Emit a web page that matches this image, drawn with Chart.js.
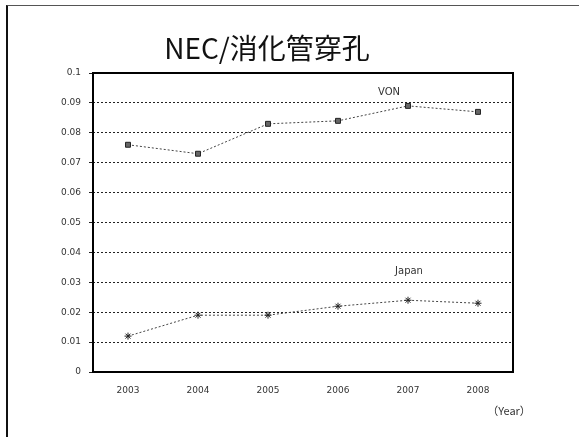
<!DOCTYPE html>
<html>
<head>
<meta charset="utf-8">
<script src="https://cdn.jsdelivr.net/npm/chart.js@4.4.0/dist/chart.umd.min.js"></script>
<style>
  html, body { margin: 0; padding: 0; background: #fff; }
  #wrap { position: relative; width: 579px; height: 437px; }
  #frame { position: absolute; left: 6px; top: 5px; right: 0; bottom: 0;
           border-left: 2px solid #111; border-top: 1px solid #555; }
  canvas { position: absolute; left: 0; top: 0; }
</style>
</head>
<body>
<div id="wrap">
  <div id="frame"></div>
  <canvas id="myChart" width="579" height="437"></canvas>
</div>
<script>
const ctx = document.getElementById('myChart');

var years = ['2003', '2004', '2005', '2006', '2007', '2008'];
var vonRates = [0.076, 0.073, 0.083, 0.084, 0.089, 0.087];
var japanRates = [0.012, 0.019, 0.019, 0.022, 0.024, 0.023];
var yTicks = [0, 0.01, 0.02, 0.03, 0.04, 0.05, 0.06, 0.07, 0.08, 0.09, 0.1];

var tickFont = { family: 'DejaVu Sans', size: 9 };

// title, series names and the unit label are drawn straight onto the canvas
var textPlugin = {
  id: 'chartTexts',
  afterDraw(chart) {
    var c = chart.ctx;
    var x = chart.scales.x, y = chart.scales.y;
    c.save();
    c.fillStyle = '#111';
    c.textAlign = 'center';
    c.textBaseline = 'middle';
    c.font = '28px "Noto Sans CJK JP"';
    c.fillText('NEC/消化管穿孔', 267, 48);

    c.fillStyle = '#333';
    c.font = '10px "DejaVu Sans"';
    c.fillText('VON', x.getPixelForValue(4) - 19, y.getPixelForValue(0.0935));
    c.fillText('Japan', x.getPixelForValue(4) + 1, y.getPixelForValue(0.0335));
    c.font = '11px "Noto Sans CJK JP"';
    c.fillText('（Year）', 509, 411);

    // solid plot frame
    var a = chart.chartArea;
    c.strokeStyle = '#000';
    c.lineWidth = 2;
    c.strokeRect(a.left, a.top, a.right - a.left, a.bottom - a.top);
    c.restore();
  }
};

var chart = new Chart(ctx, {
  type: 'line',
  data: {
    labels: years,
    datasets: [{
      label: 'VON',
      data: vonRates,
      borderColor: '#444',
      borderWidth: 1,
      borderDash: [2, 2],
      pointStyle: 'rect',
      pointRadius: 3.5,
      pointBackgroundColor: '#666',
      pointBorderColor: '#222',
      pointBorderWidth: 1
    },
    {
      label: 'Japan',
      data: japanRates,
      borderColor: '#444',
      borderWidth: 1,
      borderDash: [2, 2],
      pointStyle: 'star',
      pointRadius: 3.5,
      pointBorderColor: '#222',
      pointBorderWidth: 1
    }]
  },
  options: {
    responsive: false,
    animation: false,
    layout: { padding: { top: 73, right: 66, bottom: 37, left: 0 } },
    plugins: {
      legend: { display: false },
      tooltip: { enabled: false }
    },
    scales: {
      x: {
        offset: true,
        grid: { display: false, drawTicks: false },
        border: { display: false },
        ticks: { color: '#333', font: tickFont, padding: 13 },
        afterFit: s => { s.height = 28; }
      },
      y: {
        min: 0,
        max: 0.1,
        afterBuildTicks: s => { s.ticks = yTicks.map(v => ({ value: v })); },
        afterFit: s => { s.width = 93; },
        grid: { color: '#222', lineWidth: 1, tickLength: 4 },
        // dotted grid lines
        border: { display: false, dash: [2, 2] },
        ticks: {
          color: '#333',
          font: tickFont,
          padding: 8,
          callback: v => String(Math.round(v * 100) / 100)
        }
      }
    }
  },
  plugins: [textPlugin]
});
</script>
</body>
</html>
